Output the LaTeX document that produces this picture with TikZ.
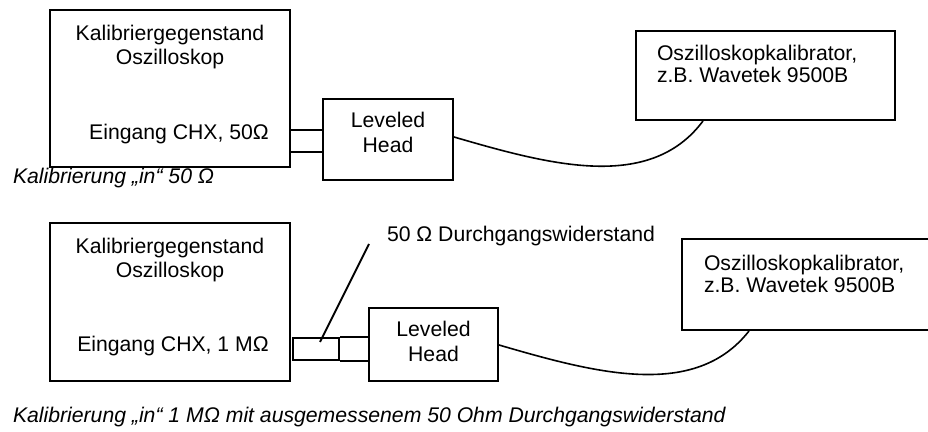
\documentclass[tikz,border=0pt]{standalone}
\usepackage{fontspec}
\setmainfont{Liberation Sans}
\usetikzlibrary{calc}

\begin{document}
\begin{tikzpicture}[x=0.5pt,y=-0.5pt,line width=1pt,
  font=\fontsize{10.6}{12}\selectfont,
  box/.style={draw,inner sep=0pt},
  txt/.style={inner sep=0pt,anchor=base,align=center},
  lefttxt/.style={inner sep=0pt,anchor=base west,align=left},
  cable/.style={line width=0.8pt}]
  \useasboundingbox[fill=white] (0,0) rectangle (928,432);

  % Kalibrierung in 50 Ohm
  \node[box,minimum width=120pt,minimum height=78.5pt] (dut1) at (170,88.5) {};
  \node[txt] (dut1name) at (170,65) {Kalibriergegenstand\\Oszilloskop};
  \node[txt] (dut1in) at (179,140) {Eingang CHX, 50Ω};
  \node[box,minimum width=65pt,minimum height=40.5pt] (head1) at (388,139.5) {};
  \node[txt] (head1name) at (388,153) {Leveled\\[0.5pt]Head};
  \foreach \yy in {130,152}
    \draw (dut1.east |- 0,\yy) -- (head1.west |- 0,\yy);
  \node[box,minimum width=129.5pt,minimum height=44.5pt] (cal1) at (765.5,75.5) {};
  \node[lefttxt] (cal1name) at (656,83) {Oszilloskopkalibrator,\\[-1pt]z.B. Wavetek 9500B};
  \draw[cable] (head1.east |- 0,137) .. controls (550,165) and (650,192) .. (cal1.south -| 703,0);
  \node[lefttxt,font=\fontsize{10.6}{12}\selectfont\itshape] (cap1) at (12,184) {Kalibrierung „in“ 50 Ω};

  % Kalibrierung in 1 MOhm mit Durchgangswiderstand
  \node[box,minimum width=120pt,minimum height=79pt] (dut2) at (170,302) {};
  \node[txt] (dut2name) at (170,278) {Kalibriergegenstand\\Oszilloskop};
  \node[txt] (dut2in) at (173,352) {Eingang CHX, 1 MΩ};
  \node[box,minimum width=23pt,minimum height=11pt] (res) at (316,349) {};
  \node[box,minimum width=64.5pt,minimum height=36.5pt] (head2) at (433.5,344.5) {};
  \node[txt] (head2name) at (433.5,362) {Leveled\\[0.5pt]Head};
  \draw (res.north east) -- (res.north east -| head2.west);
  \draw (res.south east) -- (res.south east -| head2.west);
  \node[lefttxt] (reslabel) at (386,242) {50 Ω Durchgangswiderstand};
  \draw ($(reslabel.base west)+(-17,2)$) -- ($(res.center)+(4,-7)$);
  \node[box,minimum width=129pt,minimum height=45.5pt] (cal2) at (811,284.5) {};
  \node[lefttxt] (cal2name) at (703,293) {Oszilloskopkalibrator,\\[-1pt]z.B. Wavetek 9500B};
  \draw[cable] (head2.east |- 0,345) .. controls (595,373) and (695,400) .. (cal2.south -| 749,0);
  \node[lefttxt,font=\fontsize{10.6}{12}\selectfont\itshape] (cap2) at (12,423) {Kalibrierung „in“ 1 MΩ mit ausgemessenem 50 Ohm Durchgangswiderstand};
\end{tikzpicture}
\end{document}
